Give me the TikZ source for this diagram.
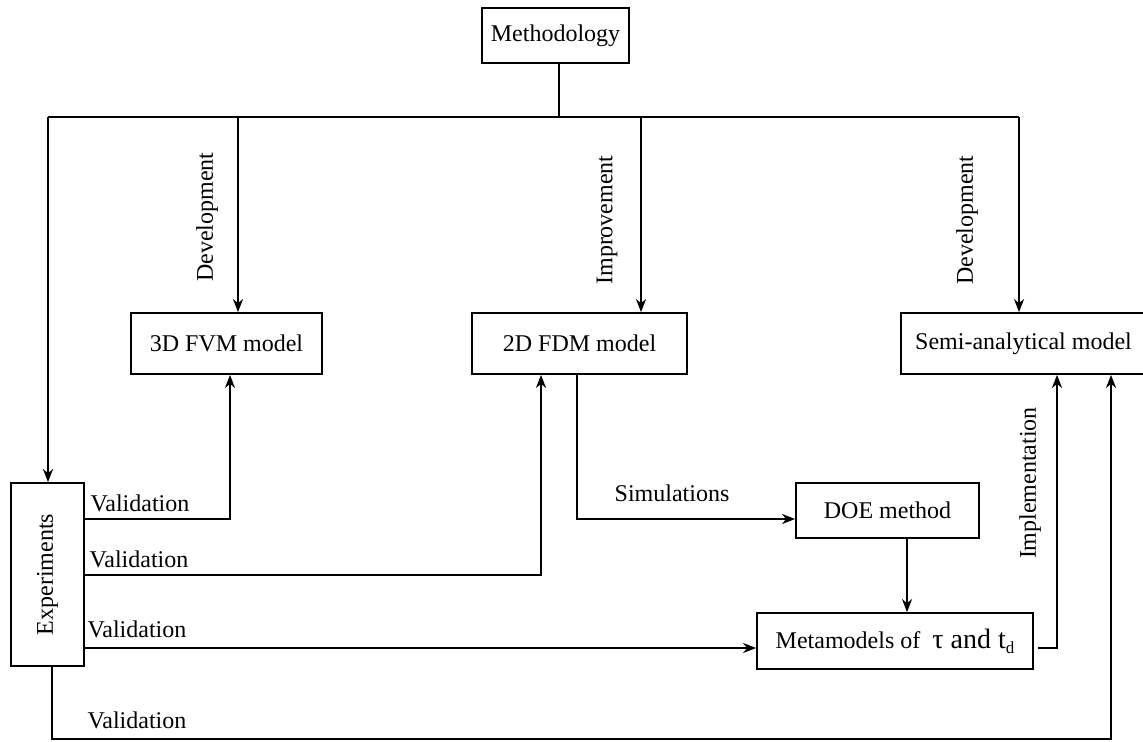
\documentclass[tikz,border=0pt]{standalone}
\usepackage{fontspec}
\setmainfont{Liberation Serif}
\usetikzlibrary{arrows.meta}
\begin{document}
\begin{tikzpicture}[x=0.5pt,y=-0.5pt,
  font=\fontsize{12}{14}\selectfont,
  box/.style={draw, line width=0.9pt, inner sep=0pt, anchor=center},
  ln/.style={line width=0.9pt},
  arr/.style={line width=0.9pt, -{Stealth[length=6.5pt,width=5pt,inset=2pt]}},
  lbl/.style={inner sep=0pt}]
\useasboundingbox (0,0) rectangle (1143,741);

% nodes
\node[box, minimum width=73.5pt, minimum height=27.5pt] (meth) at (555.5,35.5) {Methodology};
\node[box, minimum width=95.5pt, minimum height=30.5pt] (fvm) at (226.5,343.5) {3D FVM model};
\node[box, minimum width=107.5pt, minimum height=30.5pt] (fdm) at (579.5,343.5) {2D FDM model};
\node[box, minimum width=122.5pt, minimum height=30.5pt] (semi) at (1023.5,343.5) {Semi-analytical model};
\node[box, minimum width=91.5pt, minimum height=27.5pt] (doe) at (887.5,510.5) {DOE method};
\node[box, minimum width=138pt, minimum height=28pt] (meta) at (895,641)
  {Metamodels of\ \ {\fontsize{14}{14}\selectfont τ and t\raisebox{-0.4ex}{\fontsize{8.5}{8.5}\selectfont d}}};
\node[box, minimum width=36.5pt, minimum height=91.5pt] (exp) at (47.5,574.5) {\rotatebox{90}{Experiments}};

% labels
\node[lbl, rotate=90] (l1) at (207,217) {Development};
\node[lbl, rotate=90] (l2) at (607,220) {Improvement};
\node[lbl, rotate=90] (l3) at (967,220) {Development};
\node[lbl, rotate=90] (l4) at (1030,483) {Implementation};
\node[lbl] (v1) at (140,503) {Validation};
\node[lbl] (v2) at (139,559) {Validation};
\node[lbl] (v3) at (137,629) {Validation};
\node[lbl] (v4) at (137,720) {Validation};
\node[lbl] (sim) at (672,493) {Simulations};

% connectors
\coordinate (j) at (559,117);
\coordinate (jl) at (48,117);
\coordinate (jr) at (1019,117);
\draw[ln] (j |- meth.south) -- (j);
\draw[ln] (jl) -- (jr);
\draw[arr] (jl) -- (jl |- exp.north);
\draw[arr] (238,117) -- (238,0 |- fvm.north);
\draw[arr] (641,117) -- (641,0 |- fdm.north);
\draw[arr] (jr) -- (jr |- semi.north);

\draw[arr] (exp.east |- 0,519) -| (230,0 |- fvm.south);
\draw[arr] (exp.east |- 0,575) -| (541,0 |- fdm.south);
\draw[arr] (exp.east |- 0,648) -- (meta.west |- 0,648);
\draw[arr] (52,0 |- exp.south) |- (1111,739) -- (1111,0 |- semi.south);

\draw[arr] (577,0 |- fdm.south) |- (doe.west |- 0,519);
\draw[arr] (907,0 |- doe.south) -- (907,0 |- meta.north);
\coordinate (ms) at (1038,648);
\draw[arr] (ms) -| (1057,0 |- semi.south);
\end{tikzpicture}
\end{document}
